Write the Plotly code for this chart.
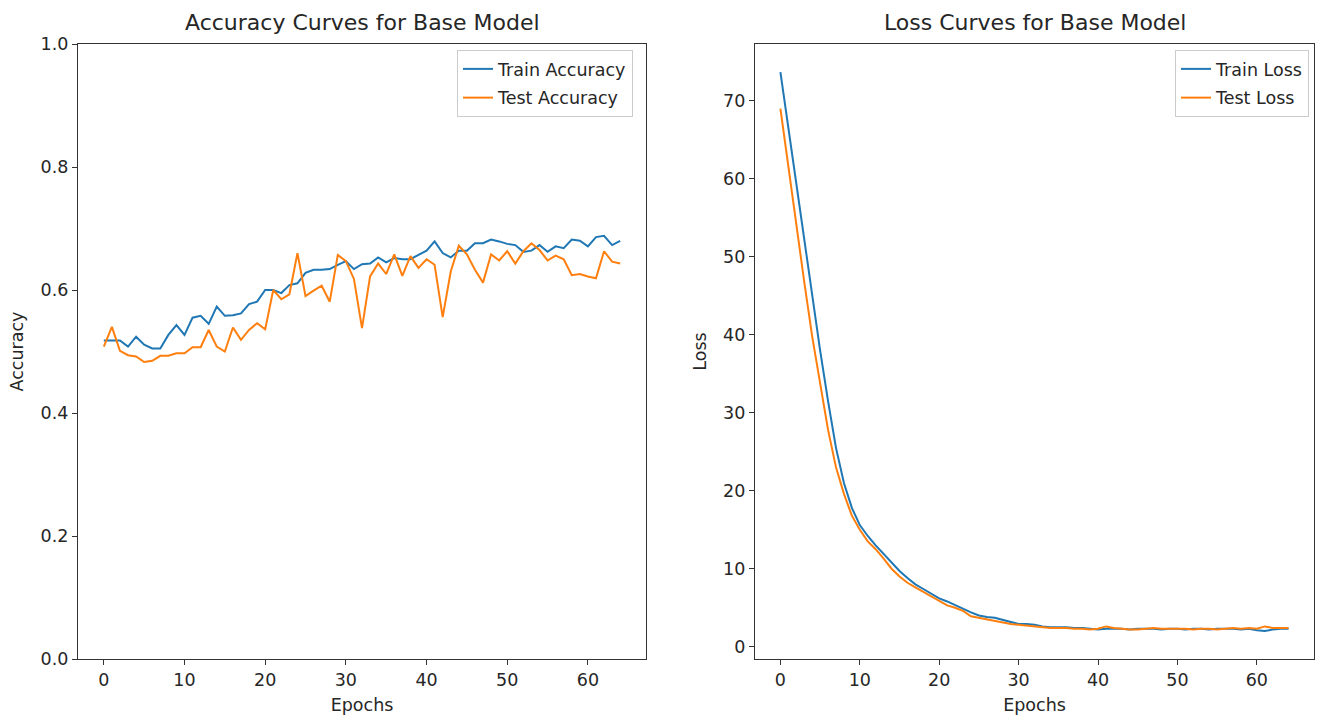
import plotly.graph_objects as go

epochs = list(range(65))

train_acc = [0.518, 0.518, 0.518, 0.508, 0.524, 0.511, 0.505, 0.505, 0.527, 0.543,
             0.527, 0.555, 0.558, 0.545, 0.573, 0.558, 0.559, 0.562, 0.577, 0.581,
             0.600, 0.600, 0.595, 0.608, 0.611, 0.628, 0.633, 0.633, 0.634, 0.641,
             0.647, 0.634, 0.642, 0.643, 0.653, 0.645, 0.652, 0.650, 0.650, 0.657,
             0.664, 0.679, 0.660, 0.653, 0.664, 0.664, 0.676, 0.676, 0.682, 0.679,
             0.675, 0.673, 0.662, 0.664, 0.673, 0.662, 0.671, 0.668, 0.682, 0.680,
             0.671, 0.686, 0.688, 0.673, 0.680]

test_acc = [0.508, 0.540, 0.501, 0.494, 0.492, 0.483, 0.485, 0.493, 0.493, 0.497,
            0.497, 0.507, 0.507, 0.535, 0.508, 0.500, 0.539, 0.519, 0.535, 0.546,
            0.536, 0.600, 0.585, 0.593, 0.660, 0.590, 0.599, 0.607, 0.581, 0.657,
            0.647, 0.618, 0.538, 0.622, 0.643, 0.626, 0.658, 0.623, 0.655, 0.636,
            0.650, 0.641, 0.556, 0.630, 0.672, 0.658, 0.633, 0.612, 0.658, 0.648,
            0.663, 0.643, 0.663, 0.676, 0.665, 0.648, 0.656, 0.650, 0.624, 0.626,
            0.622, 0.619, 0.663, 0.646, 0.643]

train_loss = [73.7, 66.5, 59.2, 52.0, 45.0, 38.0, 31.5, 25.5, 21.0, 17.8,
              15.6, 14.2, 13.0, 11.9, 10.7, 9.7, 8.8, 8.0, 7.4, 6.8,
              6.2, 5.8, 5.3, 4.9, 4.4, 4.0, 3.8, 3.7, 3.4, 3.1,
              2.9, 2.9, 2.8, 2.6, 2.5, 2.5, 2.5, 2.4, 2.4, 2.3,
              2.2, 2.3, 2.3, 2.3, 2.2, 2.3, 2.3, 2.3, 2.2, 2.3,
              2.3, 2.2, 2.3, 2.3, 2.2, 2.3, 2.3, 2.3, 2.2, 2.3,
              2.1, 2.0, 2.2, 2.3, 2.3]

test_loss = [69.0, 61.5, 54.0, 46.8, 39.8, 33.5, 27.8, 23.0, 19.6, 16.8,
             15.0, 13.5, 12.5, 11.3, 10.0, 9.0, 8.2, 7.6, 7.0, 6.4,
             5.8, 5.3, 5.0, 4.6, 3.9, 3.7, 3.5, 3.3, 3.1, 2.9,
             2.8, 2.7, 2.6, 2.5, 2.4, 2.4, 2.4, 2.3, 2.3, 2.2,
             2.3, 2.6, 2.4, 2.3, 2.2, 2.2, 2.3, 2.4, 2.3, 2.3,
             2.3, 2.3, 2.2, 2.3, 2.3, 2.2, 2.3, 2.4, 2.3, 2.4,
             2.3, 2.6, 2.4, 2.4, 2.4]

acc_ticks = [0.0, 0.2, 0.4, 0.6, 0.8, 1.0]
loss_ticks = [0, 10, 20, 30, 40, 50, 60, 70]
epoch_ticks = [0, 10, 20, 30, 40, 50, 60]

BLUE = "#1f77b4"
ORANGE = "#ff7f0e"
FONT = "DejaVu Sans"
TXT = "#262626"
W, H = 1321, 715
BASE = 17.5
TITLE = 22

fig = go.Figure()
fig.add_trace(go.Scatter(x=epochs, y=train_acc, mode="lines", name="Train Accuracy",
                         line=dict(color=BLUE, width=2), xaxis="x", yaxis="y",
                         legend="legend", legendgroup="a"))
fig.add_trace(go.Scatter(x=epochs, y=test_acc, mode="lines", name="Test Accuracy",
                         line=dict(color=ORANGE, width=2), xaxis="x", yaxis="y",
                         legend="legend", legendgroup="b"))
fig.add_trace(go.Scatter(x=epochs, y=train_loss, mode="lines", name="Train Loss",
                         line=dict(color=BLUE, width=2), xaxis="x2", yaxis="y2",
                         legend="legend2", legendgroup="c"))
fig.add_trace(go.Scatter(x=epochs, y=test_loss, mode="lines", name="Test Loss",
                         line=dict(color=ORANGE, width=2), xaxis="x2", yaxis="y2",
                         legend="legend2", legendgroup="d"))


def px_x(p):
    return p / W


def px_y(p):
    return (H - p) / H


ydom = [px_y(659), px_y(44)]
axis_common = dict(showgrid=False, zeroline=False, showline=True, linecolor="#333",
                   linewidth=1.2, mirror=True, ticks="outside", ticklen=5, tickwidth=1.2,
                   tickcolor="#333", tickfont=dict(family=FONT, size=BASE, color=TXT),
                   automargin=False)
title_font = dict(family=FONT, size=BASE, color=TXT)

fig.update_layout(
    width=W, height=H,
    margin=dict(l=0, r=0, t=0, b=0),
    paper_bgcolor="white", plot_bgcolor="white",
    showlegend=True,
    xaxis=dict(domain=[px_x(78), px_x(646)], range=[-3.2, 67.2], tickvals=epoch_ticks,
               title=dict(text="Epochs", font=title_font, standoff=11),
               anchor="y", **axis_common),
    yaxis=dict(domain=ydom, range=[0, 1], tickvals=acc_ticks, tickformat=".1f",
               title=dict(text="Accuracy", font=title_font, standoff=12),
               anchor="x", **axis_common),
    xaxis2=dict(domain=[px_x(755), px_x(1314)], range=[-3.2, 67.2], tickvals=epoch_ticks,
                title=dict(text="Epochs", font=title_font, standoff=11),
                anchor="y2", **axis_common),
    yaxis2=dict(domain=ydom, range=[-1.58, 77.3], tickvals=loss_ticks,
                title=dict(text="Loss", font=title_font, standoff=11),
                anchor="x2", **axis_common),
    legend=dict(x=px_x(633), y=px_y(50), xanchor="right", yanchor="top",
                bgcolor="rgba(255,255,255,0.8)", bordercolor="#cccccc", borderwidth=1,
                font=dict(family=FONT, size=BASE, color=TXT), tracegroupgap=3,
                traceorder="grouped"),
    legend2=dict(x=px_x(1309), y=px_y(50), xanchor="right", yanchor="top",
                 bgcolor="rgba(255,255,255,0.8)", bordercolor="#cccccc", borderwidth=1,
                 font=dict(family=FONT, size=BASE, color=TXT), tracegroupgap=3,
                 traceorder="grouped"),
    annotations=[
        dict(text="Accuracy Curves for Base Model", x=(px_x(78) + px_x(646)) / 2, y=px_y(23),
             xref="paper", yref="paper", showarrow=False, xanchor="center", yanchor="middle",
             font=dict(family=FONT, size=TITLE, color=TXT)),
        dict(text="Loss Curves for Base Model", x=(px_x(755) + px_x(1314)) / 2, y=px_y(23),
             xref="paper", yref="paper", showarrow=False, xanchor="center", yanchor="middle",
             font=dict(family=FONT, size=TITLE, color=TXT)),
    ],
)

fig.write_html("out.html",
               config={"displayModeBar": False},
               post_script="document.body.style.margin='0';document.body.style.overflow='hidden';")
